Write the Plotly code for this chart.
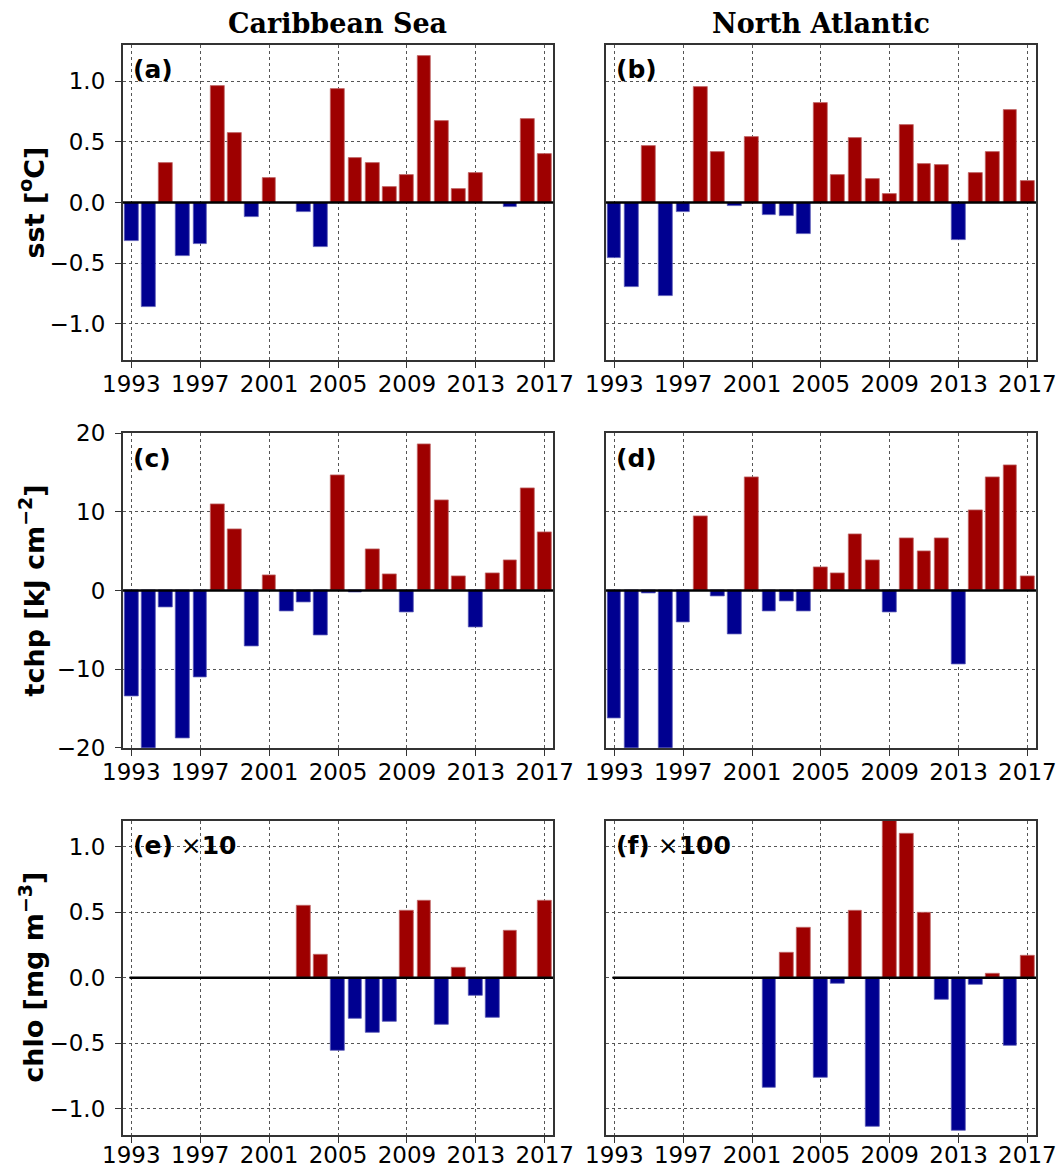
import plotly.graph_objects as go
from plotly.subplots import make_subplots

years = list(range(1993, 2018))

sst_carib = [-0.32, -0.86, 0.33, -0.44, -0.34, 0.96, 0.57, -0.12, 0.20, 0.0,
             -0.08, -0.37, 0.94, 0.37, 0.33, 0.13, 0.23, 1.21, 0.67, 0.11,
             0.24, 0.0, -0.035, 0.69, 0.40]
sst_natl = [-0.46, -0.70, 0.47, -0.77, -0.08, 0.95, 0.42, -0.03, 0.54, -0.10,
            -0.11, -0.26, 0.82, 0.23, 0.53, 0.19, 0.07, 0.64, 0.32, 0.31,
            -0.31, 0.24, 0.42, 0.76, 0.18]
tchp_carib = [-13.5, -20.5, -2.1, -18.8, -11.1, 11.0, 7.75, -7.1, 1.9, -2.6,
              -1.5, -5.7, 14.6, -0.2, 5.25, 2.1, -2.75, 18.6, 11.5, 1.8,
              -4.7, 2.25, 3.85, 13.0, 7.4]
tchp_natl = [-16.3, -20.5, -0.4, -20.5, -4.0, 9.4, -0.8, -5.6, 14.35, -2.65,
             -1.35, -2.65, 2.9, 2.2, 7.2, 3.8, -2.8, 6.7, 5.0, 6.7,
             -9.45, 10.25, 14.4, 15.95, 1.8]
chlo_carib = [None] * 10 + [0.55, 0.175, -0.56, -0.31, -0.415, -0.335, 0.51, 0.59,
                            -0.36, 0.08, -0.14, -0.305, 0.36, None, 0.59]
chlo_natl = [None] * 9 + [-0.84, 0.19, 0.385, -0.76, -0.045, 0.51, -1.14, 1.25, 1.10,
                          0.50, -0.17, -1.17, -0.05, 0.03, -0.52, 0.17]

col_titles = ["Caribbean Sea", "North Atlantic"]
panel_labels = ["<b>(a)</b>", "<b>(b)</b>", "<b>(c)</b>", "<b>(d)</b>",
                "<b>(e)</b> ×<b>10</b>", "<b>(f)</b> ×<b>100</b>"]
y_titles = ["<b>sst [<sup>o</sup>C]</b>", "<b>tchp [kJ cm<sup>−2</sup>]</b>",
            "<b>chlo [mg m<sup>−3</sup>]</b>"]
x_ticks = [1993, 1997, 2001, 2005, 2009, 2013, 2017]
y_ticks_sst = [-1.0, -0.5, 0.0, 0.5, 1.0]
y_ticks_tchp = [-20, -10, 0, 10, 20]
y_ticks_chlo = [-1.0, -0.5, 0.0, 0.5, 1.0]

RED = "#9e0000"
BLUE = "#000090"
RED_EDGE = "#c26a6a"
BLUE_EDGE = "#5a5ab8"

W, H = 1057, 1169
x_dom = [(122.7 / W, 553.3 / W), (605.7 / W, 1036 / W)]
rows_px = [(45, 360), (433.3, 747.7), (820.7, 1135)]
y_dom = [(1 - b / H, 1 - t / H) for t, b in rows_px]

data = [[sst_carib, sst_natl], [tchp_carib, tchp_natl], [chlo_carib, chlo_natl]]
y_ranges = [[-1.3, 1.3], [-20, 20], [-1.2, 1.2]]
y_tickvals = [y_ticks_sst, y_ticks_tchp, y_ticks_chlo]
y_fmt = ["{:.1f}", "{:.0f}", "{:.1f}"]

fig = make_subplots(rows=3, cols=2)

FONT = "DejaVu Sans"
TICK_SIZE = 23
for r in range(3):
    for c in range(2):
        vals = data[r][c]
        colors = [(RED if (v is not None and v > 0) else BLUE) for v in vals]
        edges = [(RED_EDGE if (v is not None and v > 0) else BLUE_EDGE) for v in vals]
        fig.add_trace(go.Bar(x=years, y=vals, width=0.8,
                             marker=dict(color=colors, line=dict(color=edges, width=0.8)),
                             showlegend=False), row=r + 1, col=c + 1)
        idx = r * 2 + c + 1
        xa = "xaxis" if idx == 1 else f"xaxis{idx}"
        ya = "yaxis" if idx == 1 else f"yaxis{idx}"
        xr = "x" if idx == 1 else f"x{idx}"
        yr = "y" if idx == 1 else f"y{idx}"
        fig.layout[xa].update(domain=list(x_dom[c]), range=[1992.5, 2017.5], automargin=False,
                              tickvals=x_ticks, ticktext=[str(t) for t in x_ticks],
                              ticks="outside", ticklen=6, tickwidth=1.3, tickcolor="#333",
                              ticklabelstandoff=(-3 if r < 2 else -7),
                              showline=True, mirror=True, linecolor="#333", linewidth=1.6,
                              showgrid=True, gridcolor="#555", griddash="dot", gridwidth=1.3,
                              zeroline=False,
                              tickfont=dict(family=FONT, size=TICK_SIZE, color="black"))
        tv = y_tickvals[r]
        fig.layout[ya].update(domain=list(y_dom[r]), range=y_ranges[r], automargin=False,
                              tickvals=tv,
                              ticktext=[y_fmt[r].format(v).replace("-", "−") for v in tv],
                              showticklabels=(c == 0),
                              ticks="outside" if c == 0 else "", ticklen=6, tickwidth=1.3,
                              tickcolor="#333", ticklabelstandoff=5,
                              showline=True, mirror=True, linecolor="#333", linewidth=1.6,
                              showgrid=True, gridcolor="#555", griddash="dot", gridwidth=1.3,
                              zeroline=False,
                              tickfont=dict(family=FONT, size=TICK_SIZE, color="black"))
        x0 = 1992.5 if r < 2 else 1992.9
        fig.add_shape(type="line", xref=xr, yref=yr, x0=x0, x1=2017.5, y0=0, y1=0,
                      line=dict(color="black", width=2.5), layer="above")
        fig.add_annotation(xref=f"{xr} domain", yref=f"{yr} domain", x=0.02, y=0.921,
                           xanchor="left", yanchor="middle", showarrow=False,
                           text=panel_labels[idx - 1],
                           font=dict(family=FONT, size=25, color="black"))

for c in range(2):
    fig.add_annotation(xref="paper", yref="paper",
                       x=(x_dom[c][0] + x_dom[c][1]) / 2, y=1 - 24 / H,
                       xanchor="center", yanchor="middle", showarrow=False,
                       text=f"<b>{col_titles[c]}</b>",
                       font=dict(family="DejaVu Serif", size=27, color="black"))

for r in range(3):
    fig.add_annotation(xref="paper", yref="paper", x=32 / W,
                       y=(y_dom[r][0] + y_dom[r][1]) / 2,
                       xanchor="center", yanchor="middle", showarrow=False, textangle=-90,
                       text=y_titles[r], font=dict(family=FONT, size=27, color="black"))

fig.update_layout(width=W, height=H, margin=dict(l=0, r=0, t=0, b=0, autoexpand=False),
                  plot_bgcolor="white", paper_bgcolor="white", bargap=0,
                  font=dict(family=FONT, color="black"))

fig.write_html("out.html")
